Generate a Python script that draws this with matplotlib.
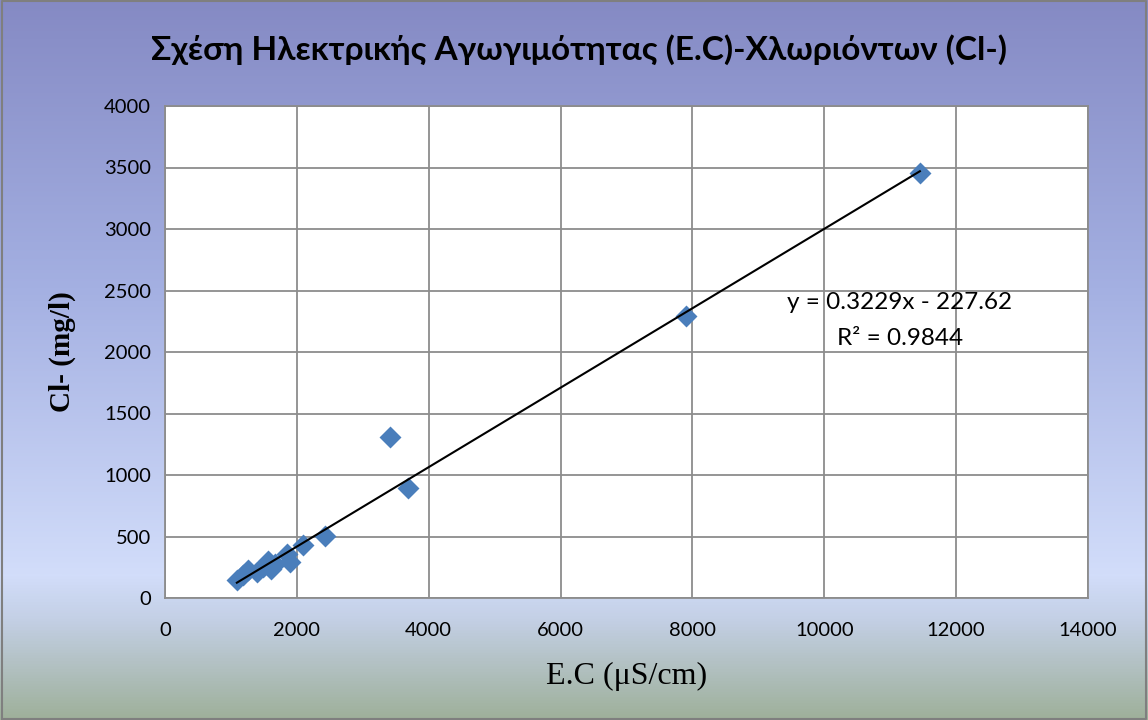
import numpy as np
import matplotlib
matplotlib.use("Agg")
import matplotlib.pyplot as plt
from matplotlib.colors import LinearSegmentedColormap

# Data
ec = [1090, 1180, 1260, 1390, 1490, 1560, 1610, 1670, 1850, 1900, 2090, 2430, 3410, 3690, 7900, 11450]
cl = [150, 185, 225, 215, 250, 300, 235, 280, 360, 295, 430, 505, 1310, 895, 2290, 3455]
slope, intercept = 0.3229, -227.62
eq_text = "y = 0.3229x - 227.62"
r2_text = "R² = 0.9844"
title = "Σχέση Ηλεκτρικής Αγωγιμότητας (E.C)-Χλωριόντων (Cl-)"
xticks = [0, 2000, 4000, 6000, 8000, 10000, 12000, 14000]
yticks = [0, 500, 1000, 1500, 2000, 2500, 3000, 3500, 4000]

W, H = 1148, 720
fig = plt.figure(figsize=(W / 100, H / 100), dpi=100)

# background gradient
bg = fig.add_axes([0, 0, 1, 1], zorder=-10)
cmap = LinearSegmentedColormap.from_list(
    "bg", [(0.0, "#858ac4"), (0.40, "#a4b0e2"), (0.80, "#d2ddfa"), (0.86, "#c4d0e6"), (1.0, "#9eb09a")])
grad = np.linspace(0, 1, 512).reshape(-1, 1)
bg.imshow(grad, aspect="auto", cmap=cmap, extent=[0, 1, 0, 1], origin="upper")
bg.set_xlim(0, 1); bg.set_ylim(0, 1)
bg.axis("off")
bg.plot([0.002, 0.998, 0.998, 0.002, 0.002], [0.002, 0.002, 0.998, 0.998, 0.002],
        color="#7f7f7f", lw=1.5, transform=bg.transAxes)

left, right, top, bottom = 165, 1088, 106, 598
ax = fig.add_axes([left / W, 1 - bottom / H, (right - left) / W, (bottom - top) / H])
ax.set_facecolor("white")
ax.set_xlim(0, 14000)
ax.set_ylim(0, 4000)
ax.set_xticks(xticks)
ax.set_yticks(yticks)
ax.grid(True, color="#8c8c8c", lw=1.3)
ax.set_axisbelow(True)
for s in ax.spines.values():
    s.set_color("#8c8c8c")
    s.set_linewidth(1.3)
ax.tick_params(length=0, labelsize=14.5)
ax.tick_params(axis="y", pad=10)
ax.tick_params(axis="x", pad=17)
for lab in ax.get_xticklabels() + ax.get_yticklabels():
    lab.set_fontfamily("Lato")

ax.scatter(ec, cl, marker="D", s=125, color="#4a7ebb", zorder=3, linewidths=0)
xl = np.array([min(ec), max(ec)])
ax.plot(xl, slope * xl + intercept, color="black", lw=1.5, zorder=4)

ax.text(0.796, 0.600, eq_text, transform=ax.transAxes, ha="center", va="center",
        fontsize=17.5, family="Lato")
ax.text(0.796, 0.528, r2_text, transform=ax.transAxes, ha="center", va="center",
        fontsize=17.5, family="Lato")

ax.set_xlabel("E.C (μS/cm)", family="Liberation Serif", fontsize=23, labelpad=17)
ax.set_ylabel("Cl- (mg/l)", family="Liberation Serif", fontsize=21, fontweight="bold", labelpad=20)

fig.text(579 / W, 1 - 50 / H, title, ha="center", va="center", fontsize=24,
         fontweight="bold", family="Lato")

fig.savefig("out.png", dpi=100)
